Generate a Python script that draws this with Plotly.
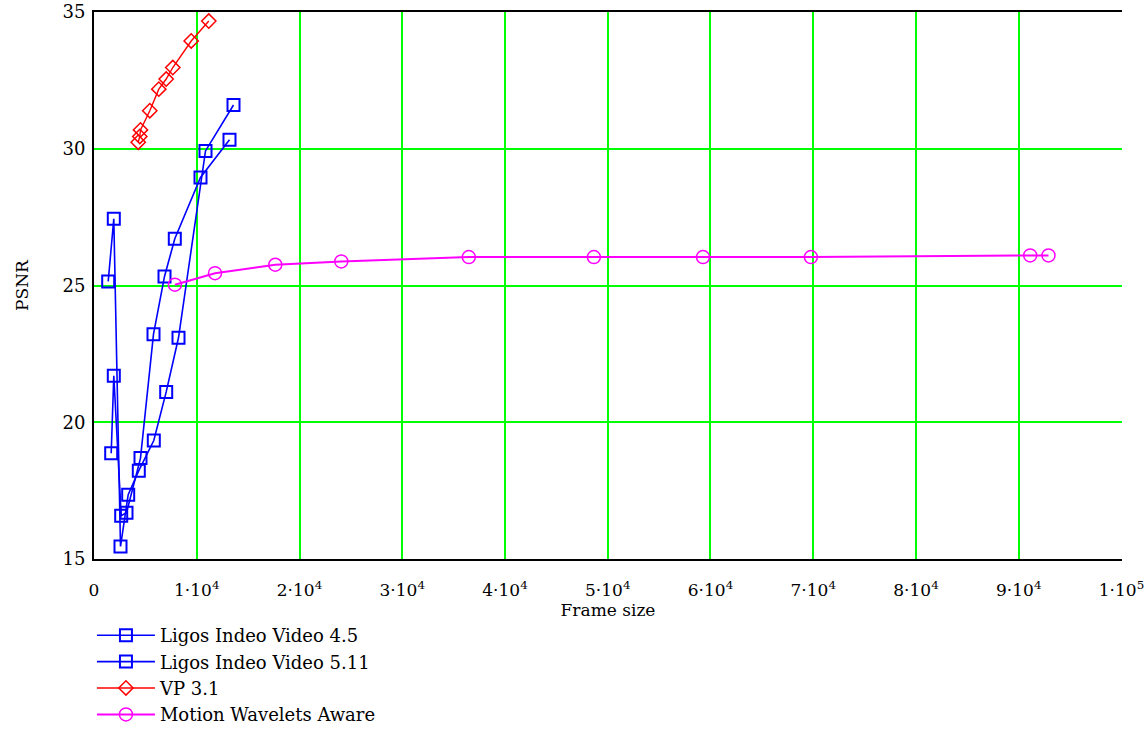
import plotly.graph_objects as go

# Ligos Indeo Video 4.5
indeo45_x = [1382, 1927, 2579, 3328, 4360, 5820, 7027, 8224, 10852, 13577]
indeo45_y = [25.15, 27.44, 15.46, 17.35, 18.23, 19.33, 21.11, 23.09, 29.92, 31.60]

# Ligos Indeo Video 5.11
indeo511_x = [1674, 1927, 2647, 3163, 4526, 5791, 6861, 7864, 10365, 13187]
indeo511_y = [18.87, 21.70, 16.58, 16.69, 18.69, 23.22, 25.33, 26.71, 28.95, 30.33]

# VP 3.1
vp31_x = [4302, 4457, 4526, 5431, 6307, 7027, 7669, 9460, 11173]
vp31_y = [30.24, 30.45, 30.69, 31.39, 32.18, 32.55, 32.97, 33.94, 34.67]

# Motion Wavelets Aware
mwa_x = [7874, 11776, 17645, 24068, 36477, 48652, 59270, 69771, 91115, 92895]
mwa_y = [25.03, 25.45, 25.76, 25.88, 26.04, 26.04, 26.04, 26.04, 26.10, 26.10]

x_tickvals = [0, 10000, 20000, 30000, 40000, 50000, 60000, 70000, 80000, 90000, 100000]
x_ticktext = ["0"] + [f"{i}\u00b710<sup>4</sup>" for i in range(1, 10)] + ["1\u00b710<sup>5</sup>"]
y_tickvals = [15, 20, 25, 30, 35]

FONT = "DejaVu Serif"
GRID = "#00ff00"

fig = go.Figure()
fig.add_trace(go.Scatter(
    x=indeo45_x, y=indeo45_y, mode="lines+markers", name="Ligos Indeo Video 4.5",
    line=dict(color="#0000FF", width=1.6),
    marker=dict(symbol="square-open", size=12, color="#0000FF", line=dict(width=2)),
))
fig.add_trace(go.Scatter(
    x=indeo511_x, y=indeo511_y, mode="lines+markers", name="Ligos Indeo Video 5.11",
    line=dict(color="#0000FF", width=1.6),
    marker=dict(symbol="square-open", size=12, color="#0000FF", line=dict(width=2)),
))
fig.add_trace(go.Scatter(
    x=vp31_x, y=vp31_y, mode="lines+markers", name="VP 3.1",
    line=dict(color="#FF0000", width=1.4),
    marker=dict(symbol="diamond-open", size=11, color="#FF0000", line=dict(width=1.5)),
))
fig.add_trace(go.Scatter(
    x=mwa_x, y=mwa_y, mode="lines+markers", name="Motion Wavelets Aware",
    line=dict(color="#FF00FF", width=2),
    marker=dict(symbol="circle-open", size=13, color="#FF00FF", line=dict(width=1.5)),
))

fig.update_layout(
    width=1147, height=731,
    margin=dict(l=94, r=25, t=12, b=172, autoexpand=False),
    paper_bgcolor="white", plot_bgcolor="white",
    font=dict(family=FONT, size=18, color="black"),
    showlegend=True,
    legend=dict(
        x=-0.002, xanchor="left", y=-0.106, yanchor="top",
        font=dict(family=FONT, size=18, color="black"),
        bgcolor="rgba(0,0,0,0)", tracegroupgap=0, itemwidth=58,
    ),
    xaxis=dict(
        range=[0, 100050], tickvals=x_tickvals, ticktext=x_ticktext,
        showgrid=True, gridcolor=GRID, gridwidth=1.5,
        showline=True, linecolor="black", linewidth=2, mirror=True,
        zeroline=False, ticks="", automargin=False, ticklabelstandoff=15,
        ticklabeloverflow="allow",
        title=dict(text="Frame size", font=dict(family=FONT, size=17), standoff=0),
        tickfont=dict(family=FONT, size=17),
    ),
    yaxis=dict(
        range=[15, 35], tickvals=y_tickvals,
        showgrid=True, gridcolor=GRID, gridwidth=1.5,
        showline=True, linecolor="black", linewidth=2, mirror=False,
        zeroline=False, ticks="", automargin=False, ticklabelstandoff=3,
        title=dict(text="PSNR", font=dict(family=FONT, size=17), standoff=30),
        tickfont=dict(family=FONT, size=18),
    ),
)

fig.write_html("out.html")
